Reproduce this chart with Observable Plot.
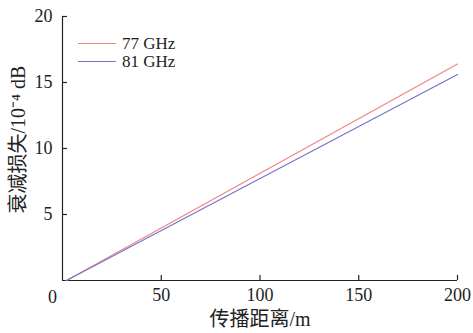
<!DOCTYPE html>
<html><head><meta charset="utf-8">
<script src="https://cdn.jsdelivr.net/npm/d3@7"></script>
<script src="https://cdn.jsdelivr.net/npm/@observablehq/plot@0.6"></script>
<style>
body{margin:0;background:#fff;}
#wrap{position:relative;width:473px;height:333px;font-family:"Liberation Serif","Noto Sans CJK SC",serif;}
#legend{position:absolute;left:78px;top:34px;font-size:17px;line-height:17px;color:#222;}
#legend div{display:flex;align-items:center;height:18px;}
#legend span.l{display:inline-block;width:38px;height:0;border-top:1.2px solid;margin-right:6px;}
</style></head>
<body><div id="wrap"><div id="legend"></div></div>
<script>
const series = ["77 GHz", "81 GHz"];
const colors = ["#f48484", "#7474cc"];
const distance = [2, 200];
const loss77 = [0, 16.4];
const loss81 = [0, 15.6];
const xTicks = [50, 100, 150, 200];
const yTicks = [5, 10, 15, 20];
const xLabel = "传播距离/m";
const yLabel = "衰减损失/10⁻⁴ dB";

const data = [];
distance.forEach((d, i) => {
  data.push({s: series[0], x: d, y: loss77[i]});
  data.push({s: series[1], x: d, y: loss81[i]});
});

const W = 473, H = 333, mL = 62, mR = 16, mT = 16, mB = 53;
const font = '"Liberation Serif","Noto Sans CJK SC",serif';
const chart = Plot.plot({
  width: W, height: H,
  marginLeft: mL, marginRight: mR, marginTop: mT, marginBottom: mB,
  style: {fontFamily: font, fontSize: "18px", color: "#222", background: "#fff", overflow: "visible"},
  x: {domain: [0, 200]},
  y: {domain: [0, 20]},
  color: {domain: series, range: colors},
  marks: [
    Plot.axisX(xTicks, {tickSize: 0, tickPadding: 8, label: null, fontSize: 18}),
    Plot.axisY(yTicks, {tickSize: 0, tickPadding: 10, label: null, fontSize: 18}),
    Plot.tickX(xTicks, {x: d => d, insetTop: H - mT - mB - 5, stroke: "#222", strokeWidth: 1.2}),
    Plot.tickY(yTicks, {y: d => d, insetRight: W - mL - mR - 5, stroke: "#222", strokeWidth: 1.2}),
    Plot.text([xLabel], {text: d => d, frameAnchor: "bottom", dy: 45, fontSize: 20, fill: "#222"}),
    Plot.text([yLabel], {text: d => d, frameAnchor: "left", textAnchor: "middle", rotate: -90, dx: -44, dy: -9, fontSize: 20, fill: "#222"}),
    Plot.text([0], {x: 0, y: 0, text: d => String(d), dx: -10, dy: 17, fontSize: 18, fill: "#222"}),
    Plot.ruleY([0], {stroke: "#222", strokeWidth: 1.2}),
    Plot.ruleX([0], {stroke: "#222", strokeWidth: 1.2}),
    Plot.line(data, {x: "x", y: "y", z: "s", stroke: "s", strokeWidth: 1.2})
  ]
});
const wrap = document.getElementById("wrap");
wrap.insertBefore(chart, wrap.firstChild);
const lg = document.getElementById("legend");
series.forEach((s, i) => {
  const r = document.createElement("div");
  r.innerHTML = `<span class="l" style="border-color:${colors[i]}"></span>${s}`;
  lg.appendChild(r);
});
</script></body></html>
